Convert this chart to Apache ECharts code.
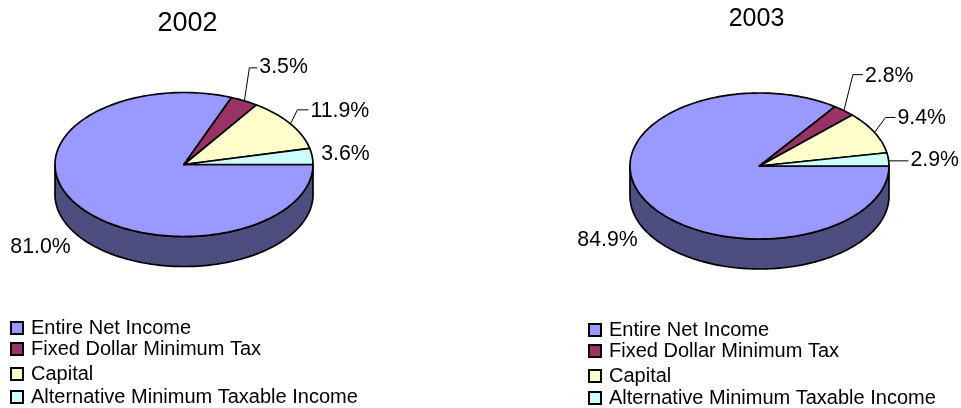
<!DOCTYPE html>
<html>
<head>
<meta charset="utf-8">
<style>html,body{margin:0;padding:0;background:#fff}#c{width:961px;height:408px}</style>
<script src="https://cdn.jsdelivr.net/npm/echarts@6/dist/echarts.min.js"></script>
</head>
<body>
<div id="c"></div>
<script>
const years = ['2002', '2003'];
const categories = ['Entire Net Income', 'Fixed Dollar Minimum Tax', 'Capital', 'Alternative Minimum Taxable Income'];
const values2002 = [81.0, 3.5, 11.9, 3.6];
const values2003 = [84.9, 2.8, 9.4, 2.9];
const colors = ['#9999FF', '#993366', '#FFFFCC', '#CCFFFF'];
const sideColors = ['#4D4D80', '#4D1A33', '#808066', '#668080'];

const valuesByYear = [values2002, values2003];
const FONT = '"Liberation Sans", Arial, sans-serif';
const pies = [
  {cx: 184, cy: 164.5, rx: 129, ry: 72, depth: 30},
  {cx: 759.5, cy: 166, rx: 129.5, ry: 73, depth: 30}
];
const titleLayout = [
  {x: 187.5, y: 10, size: 27},
  {x: 756.5, y: 7, size: 25}
];
// label placement relative to the slice's mid-arc anchor
const labelLayout = [
  [
    {text: [-67, 42]},
    {elbow: [5, -33], text: [15, -34]},
    {elbow: [7, -14], text: [20, -13]},
    {text: [9, -2]}
  ],
  [
    {text: [-67, 41]},
    {elbow: [9, -36], text: [21, -35]},
    {elbow: [11, -15], text: [23, -14]},
    {elbow: [1, 1.5], text: [22, 1]}
  ]
];
const legendLayout = [
  {left: 10, tops: [318, 339, 364, 387]},
  {left: 588, tops: [320, 341, 366, 388]}
];

function pt(p, deg, dy) {
  const t = deg * Math.PI / 180;
  return [p.cx + p.rx * Math.cos(t), p.cy + (dy || 0) + p.ry * Math.sin(t)];
}
function arc(p, a0, a1, dy) {
  const out = [];
  const n = Math.max(2, Math.ceil(Math.abs(a1 - a0) / 1.5));
  for (let i = 0; i <= n; i++) out.push(pt(p, a0 + (a1 - a0) * i / n, dy));
  return out;
}
function renderSlice(catIndex) {
  return function (params, api) {
    const chartIndex = api.value(0);
    const value = api.value(1);
    const vals = valuesByYear[chartIndex];
    const total = vals.reduce((a, b) => a + b, 0);
    const before = vals.slice(0, catIndex).reduce((a, b) => a + b, 0);
    const a0 = before / total * 360;
    const a1 = (before + value) / total * 360;
    const p = pies[chartIndex];
    const children = [];
    const stroke = {stroke: '#000', lineWidth: 1.7, lineJoin: 'round'};

    // visible rim: the part of the slice in the front half (0..180 deg)
    const s0 = Math.max(a0, 0), s1 = Math.min(a1, 180);
    if (s1 > s0) {
      const front = arc(p, s0, s1, 0);
      const back = arc(p, s1, s0, p.depth);
      children.push({type: 'polygon', shape: {points: front.concat(back)},
        style: Object.assign({fill: sideColors[catIndex]}, stroke)});
    }
    // top face
    children.push({type: 'polygon',
      shape: {points: [[p.cx, p.cy]].concat(arc(p, a0, a1, 0))},
      style: Object.assign({fill: colors[catIndex]}, stroke)});

    // label, anchored at the middle of the slice's arc
    const anchor = pt(p, (a0 + a1) / 2, 0);
    const lay = labelLayout[chartIndex][catIndex];
    if (lay.elbow) {
      children.push({type: 'polyline', shape: {points: [
        [anchor[0], anchor[1]],
        [anchor[0] + lay.elbow[0], anchor[1] + lay.elbow[1]],
        [anchor[0] + lay.text[0] - 2, anchor[1] + lay.elbow[1]]
      ]}, style: {stroke: '#000', lineWidth: 1, fill: null}});
    }
    children.push({type: 'text', style: {
      x: anchor[0] + lay.text[0], y: anchor[1] + lay.text[1],
      text: value.toFixed(1) + '%',
      fill: '#000', font: '21.3px ' + FONT, textAlign: 'left', textVerticalAlign: 'middle'
    }});
    return {type: 'group', children};
  };
}

const series = categories.map((name, c) => ({
  type: 'custom',
  name,
  coordinateSystem: 'none',
  renderItem: renderSlice(c),
  animation: false,
  silent: true,
  itemStyle: {color: colors[c], borderColor: '#000', borderWidth: 1.5},
  data: years.map((y, i) => [i, valuesByYear[i][c]])
}));

const legends = [];
legendLayout.forEach(l => categories.forEach((name, c) => legends.push({
  data: [name],
  left: l.left,
  top: l.tops[c],
  padding: 0,
  orient: 'vertical',
  selectedMode: false,
  itemWidth: 12,
  itemHeight: 12,
  icon: 'rect',
  textStyle: {fontFamily: FONT, fontSize: 20, color: '#000', padding: [0, 0, 0, 3]}
})));

const chart = echarts.init(document.getElementById('c'), null, {renderer: 'canvas'});
chart.setOption({
  animation: false,
  backgroundColor: '#fff',
  title: years.map((y, i) => ({
    text: y,
    left: titleLayout[i].x,
    top: titleLayout[i].y,
    padding: 0,
    textAlign: 'center',
    textStyle: {fontFamily: FONT, fontWeight: 'normal', fontSize: titleLayout[i].size, color: '#000'}
  })),
  legend: legends,
  series
});
</script>
</body>
</html>
